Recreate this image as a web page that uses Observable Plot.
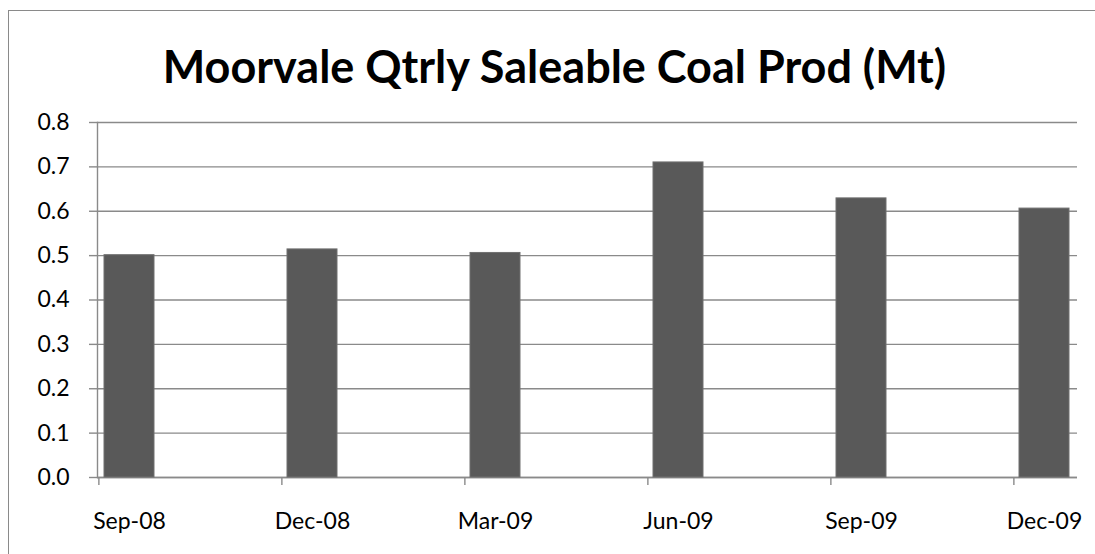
<!DOCTYPE html>
<html>
<head>
<meta charset="utf-8">
<script src="https://cdn.jsdelivr.net/npm/d3@7"></script>
<script src="https://cdn.jsdelivr.net/npm/@observablehq/plot@0.6"></script>
<style>
  html, body { margin: 0; padding: 0; background: #fff; }
  #wrap { position: relative; width: 1095px; height: 554px; overflow: hidden; font-family: Lato, "Open Sans", sans-serif; }
  #frame { position: absolute; left: 8px; top: 10px; width: 1200px; height: 700px; border: 1.5px solid #8a8a8a; box-sizing: border-box; pointer-events: none; }
  #title { height: 100px; width: 1109px; text-align: center; font-weight: 700; font-size: 45px; line-height: 100px; padding-top: 16px; box-sizing: border-box; color: #000; white-space: nowrap; }
  #chart svg { display: block; }
</style>
</head>
<body>
<div id="wrap">
  <div id="frame"></div>
  <div id="title">Moorvale Qtrly Saleable Coal Prod (Mt)</div>
  <div id="chart"></div>
</div>
<script>
// All monthly slots on the date axis
const months = ["Sep-08","Oct-08","Nov-08","Dec-08","Jan-09","Feb-09","Mar-09","Apr-09","May-09","Jun-09","Jul-09","Aug-09","Sep-09","Oct-09","Nov-09","Dec-09"];
// Quarters with production values (Mt)
const quarters = ["Sep-08","Dec-08","Mar-09","Jun-09","Sep-09","Dec-09"];
const production = [0.501, 0.514, 0.506, 0.710, 0.629, 0.606];
const yTicks = [0, 0.1, 0.2, 0.3, 0.4, 0.5, 0.6, 0.7, 0.8];

const data = quarters.map((q, i) => ({quarter: q, value: production[i]}));

const W = 1095, H = 454;
const mL = 97, mR = 18, mT = 22, mB = 77;
const step = (W - mL - mR) / months.length;
const grey = "#8a8a8a";

const chart = Plot.plot({
  width: W,
  height: H,
  marginLeft: mL,
  marginRight: mR,
  marginTop: mT,
  marginBottom: mB,
  style: {fontFamily: "Lato, 'Open Sans', sans-serif", fontSize: "23px", color: "#000", background: "transparent"},
  x: {type: "band", domain: months, paddingInner: 0.18, paddingOuter: 0.09, label: null},
  y: {domain: [0, 0.8], label: null},
  marks: [
    Plot.gridY(yTicks, {stroke: grey, strokeOpacity: 1, strokeWidth: 1.4}),
    Plot.axisY(yTicks, {tickSize: 8, tickPadding: 20, tickFormat: d3.format(".1f"), stroke: grey, strokeWidth: 1.4, fill: "#000", fontSize: 23, label: null}),
    Plot.ruleY([0], {stroke: grey, strokeWidth: 1.4}),
    Plot.frame({anchor: "left", stroke: grey, strokeWidth: 1.4}),
    Plot.barY(data, {x: "quarter", y: "value", fill: "#595959", stroke: "#707070", strokeWidth: 1}),
    Plot.ruleX(quarters, {x: d => d, y1: 0, y2: 0, insetBottom: -8, dx: -step / 2, stroke: grey, strokeWidth: 1.4}),
    Plot.axisX(quarters, {tickSize: 0, tickPadding: 35, fill: "#000", fontSize: 23, label: null})
  ]
});
document.getElementById("chart").appendChild(chart);
</script>
</body>
</html>
